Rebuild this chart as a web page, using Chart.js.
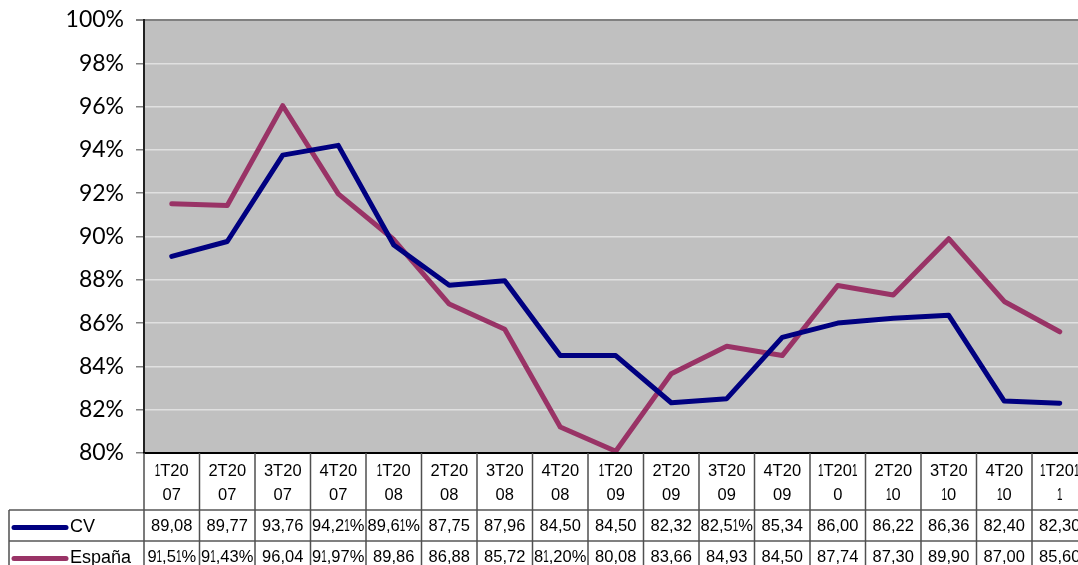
<!doctype html>
<html>
<head>
  <meta charset="utf-8">
  <title>CV / España</title>
  <script src="https://cdn.jsdelivr.net/npm/chart.js@4.4.1/dist/chart.umd.min.js"></script>
  <style>
    html, body { margin: 0; padding: 0; background: #fff; overflow: hidden; }
    #wrap { width: 1090px; height: 565px; }
  </style>
</head>
<body>
  <div id="wrap"><canvas id="chart" width="1090" height="565"></canvas></div>

  <script>
    var quarters = ['1T2007', '2T2007', '3T2007', '4T2007', '1T2008', '2T2008', '3T2008', '4T2008',
      '1T2009', '2T2009', '3T2009', '4T2009', '1T2010', '2T2010', '3T2010', '4T2010', '1T2011'];
    var cvValues = [89.08, 89.77, 93.76, 94.21, 89.61, 87.75, 87.96, 84.50,
      84.50, 82.32, 82.51, 85.34, 86.00, 86.22, 86.36, 82.40, 82.30];
    var spainValues = [91.51, 91.43, 96.04, 91.97, 89.86, 86.88, 85.72, 81.20,
      80.08, 83.66, 84.93, 84.50, 87.74, 87.30, 89.90, 87.00, 85.60];
    var yMin = 80, yMax = 100, yStep = 2;

    var seriesNames = ['CV', 'España'];
    var seriesColors = ['#000080', '#993366'];

    var TABLE_FONT = '16.5px "Liberation Sans", Arial, sans-serif';
    var LEGEND_FONT = '18px "Liberation Sans", Arial, sans-serif';
    var ONE_SCALE = 0.6; // the old table font draws a very narrow "1"

    // text helpers: char by char so the "1" can be squeezed
    function charWidth(ctx, ch) {
      var w = ctx.measureText(ch).width;
      return ch === '1' ? w * ONE_SCALE : w;
    }
    function textWidth(ctx, s) {
      var w = 0;
      for (var i = 0; i < s.length; i++) w += charWidth(ctx, s[i]);
      return w;
    }
    function drawText(ctx, s, x, y) {
      for (var i = 0; i < s.length; i++) {
        var ch = s[i];
        if (ch === '1') {
          ctx.save();
          ctx.translate(x, y);
          ctx.scale(ONE_SCALE, 1);
          ctx.fillText(ch, 0, 0);
          ctx.restore();
        } else {
          ctx.fillText(ch, x, y);
        }
        x += charWidth(ctx, ch);
      }
    }
    // wrap a cell text character by character
    function wrapChars(ctx, s, maxW) {
      var lines = [], cur = '';
      for (var i = 0; i < s.length; i++) {
        if (cur && textWidth(ctx, cur + s[i]) > maxW) {
          lines.push(cur);
          cur = '';
        }
        cur += s[i];
      }
      if (cur) lines.push(cur);
      return lines;
    }
    function pct(v) {
      return v.toFixed(2).replace('.', ',') + '%';
    }

    var plotBackground = {
      id: 'plotBackground',
      beforeDraw: function (chart) {
        var a = chart.chartArea, ctx = chart.ctx;
        ctx.save();
        ctx.fillStyle = '#C0C0C0';
        ctx.fillRect(a.left, a.top, a.right - a.left, a.bottom - a.top);
        ctx.restore();
      }
    };

    // data table under the plot, one column per quarter
    var dataTable = {
      id: 'dataTable',
      afterDraw: function (chart) {
        var ctx = chart.ctx, x = chart.scales.x, a = chart.chartArea;
        var n = quarters.length;
        var colW = (x.right - x.left) / n;
        var headTop = a.bottom, headBottom = 510;
        var rowH = 31, bottom = chart.height + 10;
        var legendLeft = 9;
        var rows = [cvValues, spainValues];

        ctx.save();

        // bottom axis line
        ctx.strokeStyle = '#000';
        ctx.lineWidth = 2;
        ctx.beginPath();
        ctx.moveTo(a.left - 1, a.bottom);
        ctx.lineTo(chart.width, a.bottom);
        ctx.stroke();

        // row lines
        ctx.strokeStyle = '#808080';
        ctx.lineWidth = 2;
        for (var r = 0; r < rows.length; r++) {
          var yy = headBottom + r * rowH;
          ctx.beginPath();
          ctx.moveTo(legendLeft, yy);
          ctx.lineTo(chart.width, yy);
          ctx.stroke();
        }

        // column lines
        ctx.strokeStyle = '#505050';
        ctx.lineWidth = 1.5;
        ctx.beginPath();
        ctx.moveTo(legendLeft, headBottom);
        ctx.lineTo(legendLeft, bottom);
        for (var i = 0; i <= n; i++) {
          var cx = x.getPixelForValue(i) - colW / 2;
          ctx.moveTo(cx, headTop);
          ctx.lineTo(cx, bottom);
        }
        ctx.stroke();

        ctx.fillStyle = '#000';
        ctx.textBaseline = 'middle';
        ctx.font = TABLE_FONT;

        // header cells
        for (var i = 0; i < n; i++) {
          var center = x.getPixelForValue(i);
          var lines = wrapChars(ctx, quarters[i], colW - 15);
          for (var l = 0; l < lines.length; l++) {
            drawText(ctx, lines[l], center - textWidth(ctx, lines[l]) / 2, 471 + l * 24);
          }
        }

        // value rows: only the first wrapped line fits the row height
        for (var r = 0; r < rows.length; r++) {
          var top = headBottom + r * rowH;
          var midY = top + rowH / 2 + 1;
          for (var i = 0; i < n; i++) {
            var center = x.getPixelForValue(i);
            var line = wrapChars(ctx, pct(rows[r][i]), colW - 3)[0];
            ctx.save();
            ctx.beginPath();
            ctx.rect(center - colW / 2 + 1, top, colW - 2, rowH);
            ctx.clip();
            drawText(ctx, line, center - textWidth(ctx, line) / 2, midY);
            ctx.restore();
          }

          // legend key
          ctx.strokeStyle = seriesColors[r];
          ctx.lineWidth = 5;
          ctx.lineCap = 'round';
          ctx.beginPath();
          ctx.moveTo(14, midY + 1);
          ctx.lineTo(66, midY + 1);
          ctx.stroke();
          ctx.font = LEGEND_FONT;
          ctx.textAlign = 'left';
          ctx.fillText(seriesNames[r], 70, midY + 1);
          ctx.font = TABLE_FONT;
        }

        ctx.restore();
      }
    };

    new Chart(document.getElementById('chart'), {
      type: 'line',
      data: {
        labels: quarters,
        datasets: [{
          label: seriesNames[0],
          data: cvValues,
          borderColor: seriesColors[0],
          borderWidth: 5,
          pointRadius: 0,
          borderJoinStyle: 'round',
          borderCapStyle: 'round',
          tension: 0
        }, {
          label: seriesNames[1],
          data: spainValues,
          borderColor: seriesColors[1],
          borderWidth: 5,
          pointRadius: 0,
          borderJoinStyle: 'round',
          borderCapStyle: 'round',
          tension: 0
        }]
      },
      options: {
        responsive: false,
        animation: false,
        layout: {
          padding: { top: 20, left: 0, right: 2.5, bottom: 112 }
        },
        plugins: {
          legend: { display: false },
          tooltip: { enabled: false }
        },
        scales: {
          x: {
            display: false,
            offset: true
          },
          y: {
            min: yMin,
            max: yMax,
            afterFit: function (scale) {
              scale.width = 144;
              scale.paddingTop = 0;
              scale.paddingBottom = 0;
            },
            border: { display: true, color: '#222', width: 2 },
            grid: {
              color: function (c) {
                if (c.tick.value === yMax) return '#808080';
                if (c.tick.value === yMin) return 'rgba(0,0,0,0)';
                return '#E0E0E0';
              },
              lineWidth: function (c) { return c.tick.value === yMax ? 2 : 1.5; },
              tickColor: '#808080',
              tickLength: 8
            },
            ticks: {
              stepSize: yStep,
              padding: 12,
              color: '#000',
              font: { family: 'Lato', size: 23 },
              callback: function (v) { return v + '%'; }
            }
          }
        }
      },
      plugins: [plotBackground, dataTable]
    });
  </script>
</body>
</html>
